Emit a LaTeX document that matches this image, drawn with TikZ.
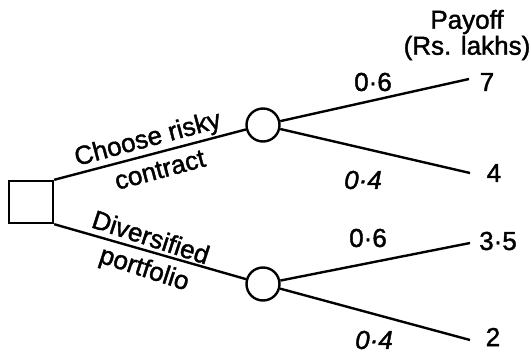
\documentclass[tikz,border=0pt]{standalone}
\usepackage{fontspec}
\setmainfont[FakeBold=1.5]{Liberation Sans}
\begin{document}
\begin{tikzpicture}[x=1pt,y=-1pt,line width=2.4pt,
  txt/.style={font=\fontsize{26}{26}\selectfont, inner sep=0pt},
  itxt/.style={font=\fontsize{26}{26}\selectfont\itshape, inner sep=0pt},
  chance/.style={circle,draw,minimum size=33pt,inner sep=0pt},
  decision/.style={draw,minimum width=44pt,minimum height=42pt,inner sep=0pt}]
\useasboundingbox (0,0) rectangle (531,358);
\node[decision] (d) at (31,202) {};
\node[chance] (c1) at (263,125) {};
\node[chance] (c2) at (263,284) {};
\coordinate (e1) at (469,79);
\coordinate (e2) at (470,173);
\coordinate (e3) at (470,243);
\coordinate (e4) at (470,340);
\draw (d.north east) -- (c1);
\draw (d.south east) -- (c2);
\draw (c1) -- (e1);
\draw (c1) -- (e2);
\draw (c2) -- (e3);
\draw (c2) -- (e4);
% labels on decision branches
\node[txt,rotate=15] (l1) at (148,140) {Choose risky};
\node[txt,rotate=15] (l2) at (160,170) {contract};
\node[txt,rotate=-18] (l3) at (151,237) {Diversified};
\node[txt,rotate=-18] (l4) at (144,270) {portfolio};
% probabilities
\node[txt] (p1) at (373,82) {0·6};
\node[itxt] (p2) at (363,180) {0·4};
\node[txt] (p3) at (368,238) {0·6};
\node[itxt] (p4) at (374,340) {0·4};
% payoffs
\node[txt,align=center] (h) at (467,35) {Payoff\\(Rs. lakhs)};
\node[txt] (v1) at (487,82) {7};
\node[txt] (v2) at (494,173) {4};
\node[txt] (v3) at (498,241) {3·5};
\node[txt] (v4) at (493,337) {2};
\end{tikzpicture}
\end{document}
